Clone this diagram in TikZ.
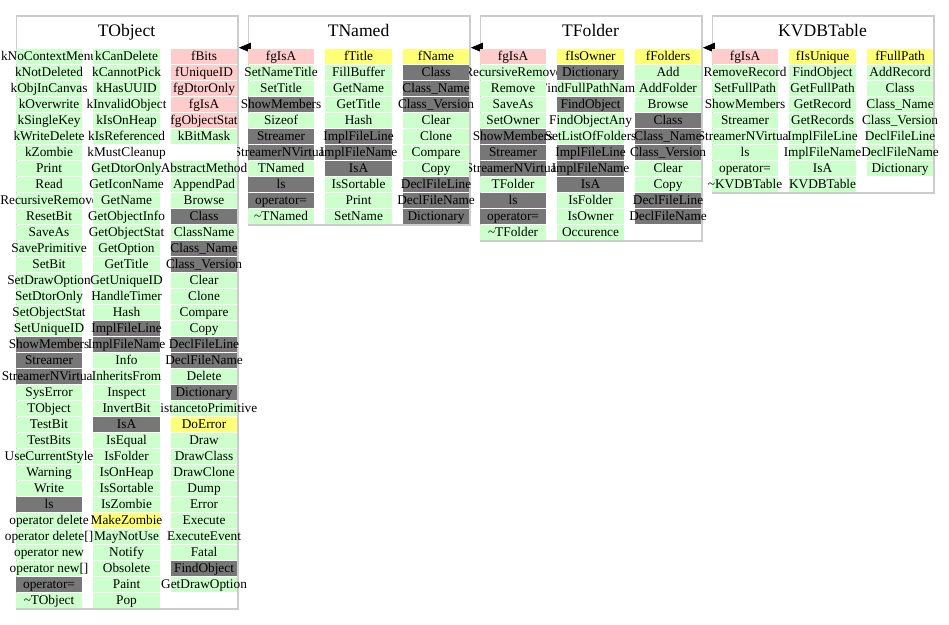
\documentclass[tikz,border=0pt]{standalone}
\usepackage{fontspec}
\setmainfont{Liberation Serif}
\usetikzlibrary{arrows.meta,calc}
\definecolor{cg}{HTML}{CCFFCC}
\definecolor{cp}{HTML}{FFCCCC}
\definecolor{ck}{HTML}{777777}
\definecolor{cy}{HTML}{FFFF77}
\definecolor{cw}{HTML}{FFFFFF}
\definecolor{boxgray}{HTML}{CCCCCC}
\tikzset{
  cellt/.style={inner sep=0pt, anchor=base, font=\fontsize{13.3}{15}\selectfont},
  titlet/.style={inner sep=0pt, anchor=base, font=\fontsize{17.6}{20}\selectfont},
  classbox/.style={draw=boxgray, line width=1.5pt, fill=white, rectangle, inner sep=0pt, minimum width=221.7pt, anchor=north west},
  inherit/.style={-{Triangle[length=12pt,width=10pt]}, line width=0.8pt}
}
\def\nrows#1{\ifcase\numexpr#1\relax 35\or 35\or 35\or 11\or 11\or 11\or 12\or 12\or 12\or 9\or 9\or 9\else 0\fi}
\newcommand\cellc[4]{%
  \pgfmathsetmacro\xl{15.7+int(#1/3)*232+mod(#1,3)*77.5}%
  \pgfmathsetmacro\yt{49.3+16*#2}%
  \ifnum#2<\nrows{#1-1}\relax \pgfmathsetmacro\clL{\xl-10.5}\else\def\clL{-50}\fi
  \ifnum#2<\nrows{#1+1}\relax \pgfmathsetmacro\clR{\xl+77.2}\else\def\clR{1000}\fi
  \fill[fill=#3] (\xl,\yt) rectangle ++(66.7,15);
  \begin{scope}
    \clip (\clL,\yt-3) rectangle (\clR,\yt+18);
    \node[cellt] (c#1-#2) at (\xl+33.35,\yt+11.4) {#4};
  \end{scope}
}
\newcommand\colc[2]{%
  \foreach \cc/\tx [count=\r from 0] in {#2} {\cellc{#1}{\r}{c\cc}{\tx}}%
}
\begin{document}
\begin{tikzpicture}[x=1pt,y=-1pt]
\useasboundingbox (0,0) rectangle (949,624);
\fill[white] (0,0) rectangle (949,624);
% class boxes
\node[classbox, minimum height=593pt] (tobject) at (15.7,15.3) {};
\node[classbox, minimum height=209pt] (tnamed) at (247.7,15.3) {};
\node[classbox, minimum height=225pt] (tfolder) at (479.7,15.3) {};
\node[classbox, minimum height=177pt] (kvdbtable) at (711.7,15.3) {};
\node[titlet] (tobject-t) at (126.55,36.7) {TObject};
\node[titlet] (tnamed-t) at (358.55,36.7) {TNamed};
\node[titlet] (tfolder-t) at (590.55,36.7) {TFolder};
\node[titlet] (kvdbtable-t) at (822.55,36.7) {KVDBTable};
% inheritance arrows
\draw[inherit] ($(tnamed.north west)+(2.3,32.4)$) -- ($(tobject.north east)+(0,32.4)$);
\draw[inherit] ($(tfolder.north west)+(2.3,32.4)$) -- ($(tnamed.north east)+(0,32.4)$);
\draw[inherit] ($(kvdbtable.north west)+(2.3,32.4)$) -- ($(tfolder.north east)+(0,32.4)$);
% TObject
\colc{0}{g/kNoContextMenu, g/kNotDeleted, g/kObjInCanvas, g/kOverwrite, g/kSingleKey, g/kWriteDelete, g/kZombie, g/Print, g/Read, g/RecursiveRemove, g/ResetBit, g/SaveAs, g/SavePrimitive, g/SetBit, g/SetDrawOption, g/SetDtorOnly, g/SetObjectStat, g/SetUniqueID, k/ShowMembers, k/Streamer, k/StreamerNVirtual, g/SysError, g/TObject, g/TestBit, g/TestBits, g/UseCurrentStyle, g/Warning, g/Write, k/ls, g/operator delete, g/operator delete[], g/operator new, g/operator new[], k/operator=, g/\textasciitilde TObject}
\colc{1}{g/kCanDelete, g/kCannotPick, g/kHasUUID, g/kInvalidObject, g/kIsOnHeap, g/kIsReferenced, w/kMustCleanup, g/GetDtorOnly, g/GetIconName, g/GetName, g/GetObjectInfo, g/GetObjectStat, g/GetOption, g/GetTitle, g/GetUniqueID, g/HandleTimer, g/Hash, k/ImplFileLine, k/ImplFileName, g/Info, g/InheritsFrom, g/Inspect, g/InvertBit, k/IsA, g/IsEqual, g/IsFolder, g/IsOnHeap, g/IsSortable, g/IsZombie, y/MakeZombie, g/MayNotUse, g/Notify, g/Obsolete, g/Paint, g/Pop}
\colc{2}{p/fBits, p/fUniqueID, p/fgDtorOnly, p/fgIsA, p/fgObjectStat, g/kBitMask, w/{}, g/AbstractMethod, g/AppendPad, g/Browse, k/Class, g/ClassName, k/Class\_Name, k/Class\_Version, g/Clear, g/Clone, g/Compare, g/Copy, k/DeclFileLine, k/DeclFileName, g/Delete, k/Dictionary, g/DistancetoPrimitive, y/DoError, g/Draw, g/DrawClass, g/DrawClone, g/Dump, g/Error, g/Execute, g/ExecuteEvent, g/Fatal, k/FindObject, g/GetDrawOption, w/{}}
% TNamed
\colc{3}{p/fgIsA, g/SetNameTitle, g/SetTitle, k/ShowMembers, g/Sizeof, k/Streamer, k/StreamerNVirtual, g/TNamed, k/ls, k/operator=, g/\textasciitilde TNamed}
\colc{4}{y/fTitle, g/FillBuffer, g/GetName, g/GetTitle, g/Hash, k/ImplFileLine, k/ImplFileName, k/IsA, g/IsSortable, g/Print, g/SetName}
\colc{5}{y/fName, k/Class, k/Class\_Name, k/Class\_Version, g/Clear, g/Clone, g/Compare, g/Copy, k/DeclFileLine, k/DeclFileName, k/Dictionary}
% TFolder
\colc{6}{p/fgIsA, g/RecursiveRemove, g/Remove, g/SaveAs, g/SetOwner, k/ShowMembers, k/Streamer, k/StreamerNVirtual, g/TFolder, k/ls, k/operator=, g/\textasciitilde TFolder}
\colc{7}{y/fIsOwner, k/Dictionary, g/FindFullPathName, k/FindObject, g/FindObjectAny, g/SetListOfFolders, k/ImplFileLine, k/ImplFileName, k/IsA, g/IsFolder, g/IsOwner, g/Occurence}
\colc{8}{y/fFolders, g/Add, g/AddFolder, g/Browse, k/Class, k/Class\_Name, k/Class\_Version, g/Clear, g/Copy, k/DeclFileLine, k/DeclFileName, w/{}}
% KVDBTable
\colc{9}{p/fgIsA, g/RemoveRecord, g/SetFullPath, g/ShowMembers, g/Streamer, g/StreamerNVirtual, g/ls, g/operator=, g/\textasciitilde KVDBTable}
\colc{10}{y/fIsUnique, g/FindObject, g/GetFullPath, g/GetRecord, g/GetRecords, g/ImplFileLine, g/ImplFileName, g/IsA, g/KVDBTable}
\colc{11}{y/fFullPath, g/AddRecord, g/Class, g/Class\_Name, g/Class\_Version, g/DeclFileLine, g/DeclFileName, g/Dictionary, w/{}}
\end{tikzpicture}
\end{document}
